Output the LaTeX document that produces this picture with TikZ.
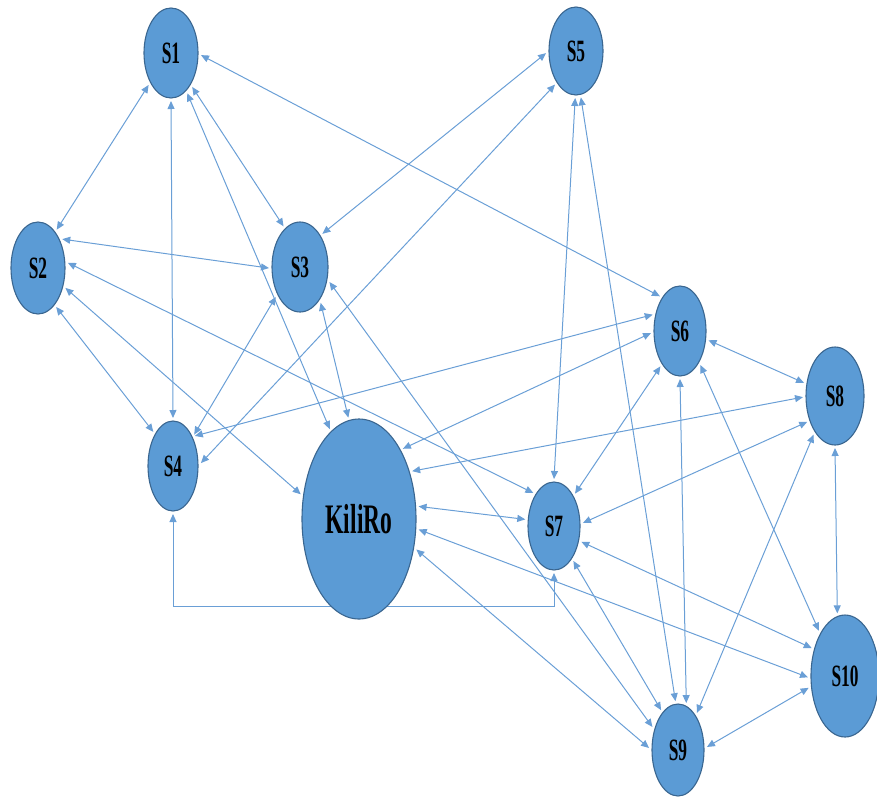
\documentclass[tikz,border=0pt]{standalone}
\usepackage{fontspec}
\newfontfamily\labelfont[FakeStretch=0.56]{Liberation Serif}
\usetikzlibrary{shapes.geometric,arrows.meta}
\definecolor{nodefill}{HTML}{5B9BD5}
\definecolor{nodeedge}{HTML}{3A6690}
\definecolor{linkcol}{HTML}{6A9FD6}
\pgfdeclarelayer{bg}
\pgfsetlayers{bg,main}
\tikzset{
  stage/.style={ellipse, draw=nodeedge, line width=1.1pt, fill=nodefill,
    inner sep=0pt, outer sep=3pt, text=black,
    font=\labelfont\bfseries\fontsize{31}{31}\selectfont},
  hub/.style={stage, font=\labelfont\bfseries\fontsize{42}{42}\selectfont},
  link/.style={draw=linkcol, line width=1pt,
    {Triangle[length=8pt,width=7pt]}-{Triangle[length=8pt,width=7pt]}}
}
\begin{document}
\begin{tikzpicture}[x=1pt,y=-1pt]
\useasboundingbox (0,0) rectangle (877,796);

% stations
\node[stage, minimum width=54pt, minimum height=90pt] (S1) at (171,53) {S1};
\node[stage, minimum width=54pt, minimum height=88pt] (S5) at (576,51) {S5};
\node[stage, minimum width=54pt, minimum height=92pt] (S2) at (38,268) {S2};
\node[stage, minimum width=56pt, minimum height=90pt] (S3) at (300,267) {S3};
\node[stage, minimum width=52pt, minimum height=90pt] (S6) at (680,331) {S6};
\node[stage, minimum width=58pt, minimum height=98pt] (S8) at (835,396) {S8};
\node[stage, minimum width=50pt, minimum height=90pt] (S4) at (173,466) {S4};
\node[hub, minimum width=114pt, minimum height=200pt] (K) at (359,519) {KiliRo};
\node[stage, minimum width=52pt, minimum height=88pt] (S7) at (554,526) {S7};
\node[stage, minimum width=68pt, minimum height=122pt] (S10) at (845,676) {S10};
\node[stage, minimum width=52pt, minimum height=92pt] (S9) at (678,750) {S9};

\coordinate (elbow) at (360,606);

% two-way links, drawn beneath the stations
\begin{pgfonlayer}{bg}
\draw[link] (S1.235) -- (S2.64);
\draw[link] (S1.270) -- (S4.90);
\draw[link] (S1.292) -- (K.108);
\draw[link] (S1.302) -- (S3.112);
\draw[link] (S1.356) -- (S6.120);
\draw[link] (S2.50) -- (S3.182);
\draw[link] (S2.10) -- (S7.122);
\draw[link] (S2.295) -- (S4.120);
\draw[link] (S2.324) -- (K.157);
\draw[link] (S3.56) -- (S5.184);
\draw[link] (S3.231) -- (S4.56);
\draw[link] (S3.300) -- (K.96);
\draw[link] (S3.333) -- (S9.138);
\draw[link] (S5.238) -- (S4.6);
\draw[link] (S5.269) -- (S7.90);
\draw[link] (S5.276) -- (S9.93);
\draw[link] (S6.149) -- (S4.54);
\draw[link] (S6.184) -- (K.58);
\draw[link] (S6.241) -- (S7.57);
\draw[link] (S6.342) -- (S8.157);
\draw[link] (S6.270) -- (S9.80);
\draw[link] (S6.301) -- (S10.120);
\draw[link] (S8.182) -- (K.42);
\draw[link] (S8.223) -- (S7.6);
\draw[link] (S8.241) -- (S9.63);
\draw[link] (S8.270) -- (S10.97);
\draw[link] (S7.167) -- (K.12);
\draw[link] (S7.299) -- (S9.113);
\draw[link] (S7.330) -- (S10.140);
\draw[link] (S7.270) |- (elbow) -| (S4.270);
\draw[link] (K.350) -- (S10.182);
\draw[link] (K.332) -- (S9.176);
\draw[link] (S9.6) -- (S10.198);
\end{pgfonlayer}
\end{tikzpicture}
\end{document}
